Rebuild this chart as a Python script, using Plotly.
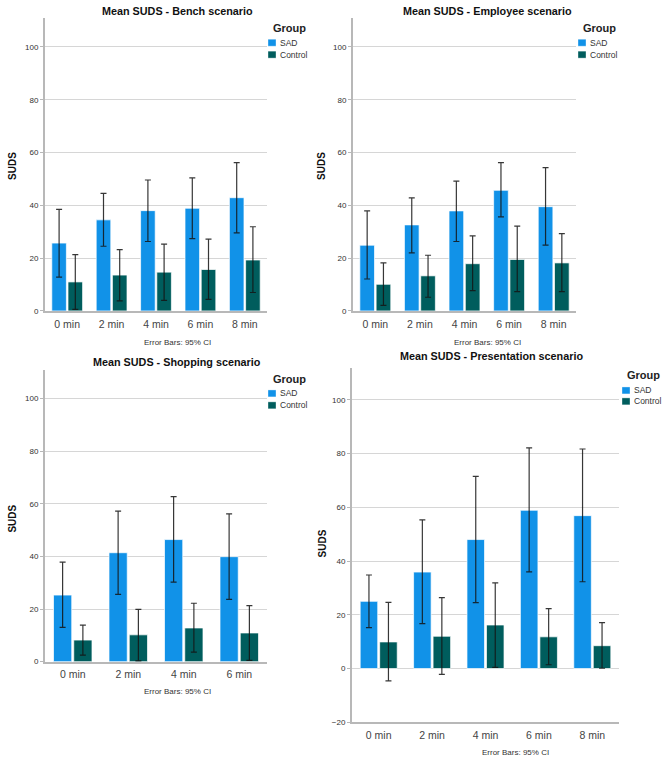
import plotly.graph_objects as go

W, H = 672, 768

# Bench scenario
bench_cats = ["0 min", "2 min", "4 min", "6 min", "8 min"]
bench_sad = [25.7, 34.5, 38.0, 38.9, 42.9]
bench_sad_lo = [12.8, 24.5, 26.3, 27.4, 29.6]
bench_sad_hi = [38.5, 44.5, 49.6, 50.4, 56.2]
bench_ctl = [11.0, 13.6, 14.7, 15.7, 19.3]
bench_ctl_lo = [0.6, 3.8, 4.0, 4.4, 7.0]
bench_ctl_hi = [21.3, 23.2, 25.3, 27.2, 31.9]

# Employee scenario
emp_cats = ["0 min", "2 min", "4 min", "6 min", "8 min"]
emp_sad = [24.9, 32.6, 37.9, 45.7, 39.5]
emp_sad_lo = [12.1, 22.0, 26.3, 35.6, 24.9]
emp_sad_hi = [37.9, 42.8, 49.2, 56.2, 54.3]
emp_ctl = [10.1, 13.3, 17.9, 19.5, 18.2]
emp_ctl_lo = [2.1, 5.2, 7.7, 7.3, 7.3]
emp_ctl_hi = [18.2, 21.1, 28.4, 32.1, 29.3]

# Shopping scenario
shop_cats = ["0 min", "2 min", "4 min", "6 min"]
shop_sad = [25.3, 41.4, 46.4, 39.9]
shop_sad_lo = [13.0, 25.6, 30.2, 23.7]
shop_sad_hi = [37.8, 57.2, 62.7, 56.2]
shop_ctl = [8.2, 10.2, 12.8, 10.9]
shop_ctl_lo = [2.5, 0.3, 3.6, 0.5]
shop_ctl_hi = [13.9, 19.9, 22.2, 21.3]

# Presentation scenario
pres_cats = ["0 min", "2 min", "4 min", "6 min", "8 min"]
pres_sad = [25.0, 35.9, 48.0, 58.9, 56.9]
pres_sad_lo = [15.2, 16.7, 24.5, 36.0, 32.3]
pres_sad_hi = [34.8, 55.3, 71.5, 82.1, 81.7]
pres_ctl = [9.9, 12.0, 16.2, 11.8, 8.5]
pres_ctl_lo = [-4.6, -2.2, 0.4, 1.4, 0.1]
pres_ctl_hi = [24.6, 26.4, 31.9, 22.3, 17.1]

groups = ["SAD", "Control"]
SAD_COLOR = "#1192e8"
CTL_COLOR = "#005d5d"
FONT = "Liberation Sans, Arial, sans-serif"

fig = go.Figure()

panels = [
    dict(title="Mean SUDS - Bench scenario", cats=bench_cats,
         sad=(bench_sad, bench_sad_lo, bench_sad_hi), ctl=(bench_ctl, bench_ctl_lo, bench_ctl_hi),
         x=(45, 267), y=(18, 313), yr=[0, 111], ticks=[0, 20, 40, 60, 80, 100],
         title_xy=(177, 11), note_xy=(177, 345), suds_xy=(13, 167),
         leg=(268, 28, 43, 55)),
    dict(title="Mean SUDS - Employee scenario", cats=emp_cats,
         sad=(emp_sad, emp_sad_lo, emp_sad_hi), ctl=(emp_ctl, emp_ctl_lo, emp_ctl_hi),
         x=(353, 576), y=(18, 313), yr=[0, 111], ticks=[0, 20, 40, 60, 80, 100],
         title_xy=(487, 11), note_xy=(487, 345), suds_xy=(322, 167),
         leg=(578, 28, 43, 55)),
    dict(title="Mean SUDS - Shopping scenario", cats=shop_cats,
         sad=(shop_sad, shop_sad_lo, shop_sad_hi), ctl=(shop_ctl, shop_ctl_lo, shop_ctl_hi),
         x=(45, 267), y=(372, 666), yr=[0, 111], ticks=[0, 20, 40, 60, 80, 100],
         title_xy=(177, 364), note_xy=(177, 696), suds_xy=(13, 522),
         leg=(268, 381, 396, 408)),
    dict(title="Mean SUDS - Presentation scenario", cats=pres_cats,
         sad=(pres_sad, pres_sad_lo, pres_sad_hi), ctl=(pres_ctl, pres_ctl_lo, pres_ctl_hi),
         x=(352, 619), y=(370, 727), yr=[-20, 112], ticks=[-20, 0, 20, 40, 60, 80, 100],
         title_xy=(491, 358), note_xy=(515, 757), suds_xy=(322, 547),
         leg=(622, 377, 393, 404)),
]

annotations = []
shapes = []


def px_x(v):
    return v / W


def px_y(v):
    return 1 - v / H


for i, p in enumerate(panels, start=1):
    sfx = "" if i == 1 else str(i)
    for name, (vals, lo, hi), color in zip(groups, [p["sad"], p["ctl"]], [SAD_COLOR, CTL_COLOR]):
        fig.add_trace(go.Bar(
            x=p["cats"], y=vals, name=name, showlegend=False,
            xaxis="x" + sfx, yaxis="y" + sfx,
            marker=dict(color=color, line=dict(color="rgba(255,255,255,0.7)", width=1)),
            error_y=dict(type="data", symmetric=False,
                         array=[h - v for h, v in zip(hi, vals)],
                         arrayminus=[v - l for v, l in zip(vals, lo)],
                         color="rgba(20,20,20,0.85)", thickness=1.2, width=3),
        ))
    fig.layout["xaxis" + sfx] = dict(
        domain=[px_x(p["x"][0]), px_x(p["x"][1])], anchor="y" + sfx,
        showline=True, linecolor="#b8b8b8", linewidth=2, showgrid=False,
        tickfont=dict(size=10.5, color="#444", family=FONT), ticks="",
        ticklabelstandoff=2)
    fig.layout["yaxis" + sfx] = dict(
        domain=[px_y(p["y"][1]), px_y(p["y"][0])], anchor="x" + sfx,
        range=p["yr"], tickvals=p["ticks"],
        showline=True, linecolor="#b8b8b8", linewidth=2,
        showgrid=True, gridcolor="#d6d6d6", gridwidth=1, zeroline=False,
        ticks="outside", ticklen=3, tickcolor="#b8b8b8",
        tickfont=dict(size=8, color="#333", family=FONT))

    # panel title, y title and footnote
    annotations.append(dict(
        text="<b>" + p["title"] + "</b>", x=px_x(p["title_xy"][0]), y=px_y(p["title_xy"][1]),
        xref="paper", yref="paper", showarrow=False, xanchor="center", yanchor="middle",
        font=dict(size=10.8, color="#111", family=FONT)))
    annotations.append(dict(
        text="Error Bars: 95% CI", x=px_x(p["note_xy"][0]), y=px_y(p["note_xy"][1]),
        xref="paper", yref="paper", showarrow=False, xanchor="center", yanchor="middle",
        font=dict(size=8, color="#333", family=FONT)))
    annotations.append(dict(
        text="<b>SUDS</b>", x=px_x(p["suds_xy"][0]), y=px_y(p["suds_xy"][1]),
        xref="paper", yref="paper", showarrow=False, textangle=-90,
        xanchor="center", yanchor="middle",
        font=dict(size=10, color="#111", family=FONT)))

    # SPSS-style legend: "Group" heading with small swatches
    lx, gy, y1, y2 = p["leg"]
    annotations.append(dict(
        text="<b>Group</b>", x=px_x(lx + 3), y=px_y(gy), xref="paper", yref="paper",
        showarrow=False, xanchor="left", yanchor="middle",
        font=dict(size=11, color="#222", family=FONT)))
    for name, color, yy in zip(groups, [SAD_COLOR, CTL_COLOR], [y1, y2]):
        shapes.append(dict(
            type="rect", xref="paper", yref="paper",
            x0=px_x(lx), x1=px_x(lx + 8), y0=px_y(yy + 3.5), y1=px_y(yy - 3.5),
            fillcolor=color, line=dict(color="rgba(255,255,255,0.7)", width=0.5)))
        annotations.append(dict(
            text=name, x=px_x(lx + 10), y=px_y(yy), xref="paper", yref="paper",
            showarrow=False, xanchor="left", yanchor="middle",
            font=dict(size=8.5, color="#333", family=FONT)))

fig.update_layout(
    width=W, height=H,
    margin=dict(l=0, r=0, t=0, b=0),
    paper_bgcolor="white", plot_bgcolor="white",
    barmode="group", bargap=0.27, bargroupgap=0.1,
    font=dict(family=FONT),
    showlegend=False,
    annotations=annotations,
    shapes=shapes,
)

# drop the default 8px body margin so the figure sits at the window corner
fig.write_html("out.html", config={"displayModeBar": False},
               post_script="document.body.style.margin = '0';")
